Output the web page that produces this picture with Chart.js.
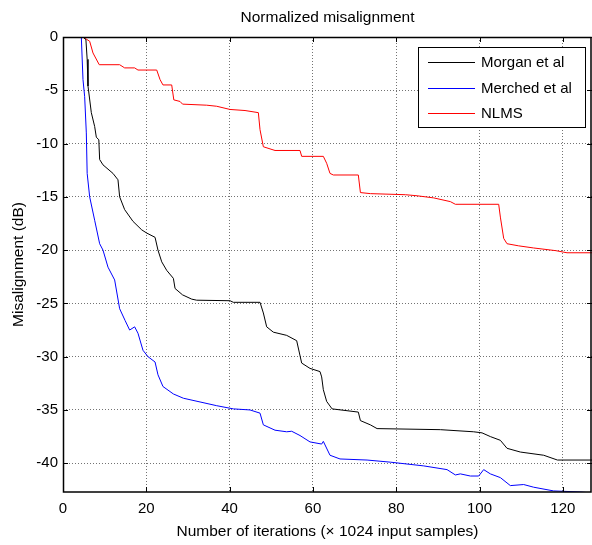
<!DOCTYPE html>
<html>
<head>
<meta charset="utf-8">
<script src="https://cdn.jsdelivr.net/npm/chart.js@4/dist/chart.umd.min.js"></script>
<style>
  html, body { margin: 0; padding: 0; background: #fff; }
  #wrap { width: 592px; height: 545px; }
</style>
</head>
<body>
<div id="wrap"><canvas id="c" width="592" height="545"></canvas></div>
<script>
// values (x: iterations ×1024, y: dB)
const morganX = [0, 4.8, 5.5, 5.8, 6.0, 6.8, 7.6, 8.0, 8.6, 8.8, 9.6, 12.0, 13.2, 13.6, 14.8, 16.8, 18.9, 20.1, 22.1, 22.8, 23.7, 24.9, 26.5, 26.9, 28.7, 30.9, 32.1, 40.1, 40.9, 47.3, 48.1, 48.9, 50.5, 53.7, 56.1, 57.3, 59.3, 61.7, 62.1, 62.5, 63.3, 64.6, 70.9, 71.4, 73.8, 75.4, 90.6, 98.6, 100.6, 102.6, 105.0, 106.6, 109.8, 115.4, 118.7, 127];
const morganY = [0, 0, -0.25, -2.1, -4.6, -7.1, -8.4, -9.4, -9.65, -11.5, -12.0, -12.8, -13.4, -15.0, -16.2, -17.3, -18.1, -18.4, -18.8, -20.0, -21.1, -21.9, -22.65, -23.6, -24.2, -24.6, -24.7, -24.75, -24.9, -24.9, -25.9, -27.2, -27.7, -28.0, -28.5, -30.6, -31.1, -31.4, -31.9, -33.1, -34.2, -34.9, -35.2, -36.0, -36.4, -36.75, -36.85, -37.05, -37.15, -37.5, -37.85, -38.6, -38.95, -39.25, -39.7, -39.7];

const merchedX = [0, 4.4, 4.8, 5.2, 5.6, 5.8, 6.4, 7.6, 8.8, 9.6, 10.8, 12.4, 13.6, 14.9, 16.0, 17.2, 18.0, 19.2, 20.4, 22.1, 22.8, 24.0, 26.5, 28.9, 32.9, 36.9, 40.9, 44.9, 47.3, 48.1, 50.9, 53.7, 54.9, 56.9, 59.3, 62.1, 62.5, 64.1, 66.5, 73.0, 78.6, 86.6, 92.2, 94.2, 95.4, 97.8, 99.8, 101.0, 102.6, 105.0, 107.4, 110.6, 113.0, 117.8, 124.3, 127];
const merchedY = [0, 0, -4.0, -5.6, -9.0, -12.8, -15.0, -17.2, -19.4, -20.0, -21.6, -22.8, -25.5, -26.6, -27.5, -27.2, -27.8, -29.4, -30.0, -30.5, -31.7, -32.8, -33.5, -33.9, -34.25, -34.6, -34.9, -35.0, -35.3, -36.4, -36.9, -37.05, -37.0, -37.4, -38.0, -38.2, -37.95, -39.25, -39.6, -39.7, -39.9, -40.25, -40.6, -41.1, -41.0, -41.2, -41.2, -40.6, -41.0, -41.35, -42.1, -42.0, -42.25, -42.6, -42.7, -42.8];

const nlmsX = [0, 4.8, 6.4, 7.2, 8.7, 13.6, 14.8, 17.2, 18.0, 22.5, 23.3, 24.0, 26.1, 26.6, 28.1, 28.7, 34.5, 36.9, 40.1, 43.7, 46.9, 47.3, 48.1, 50.9, 56.9, 57.3, 62.5, 63.3, 64.1, 64.9, 70.9, 71.4, 73.8, 82.2, 85.0, 89.0, 93.0, 94.2, 104.6, 105.0, 105.8, 106.6, 109.4, 113.0, 118.3, 121.0, 127];
const nlmsY = [0, 0, -0.4, -1.5, -2.6, -2.6, -2.9, -2.9, -3.1, -3.1, -4.0, -4.5, -4.5, -5.9, -6.05, -6.3, -6.4, -6.5, -6.8, -6.9, -7.1, -8.7, -10.3, -10.65, -10.65, -11.2, -11.2, -11.85, -12.8, -12.95, -12.95, -14.6, -14.7, -14.8, -14.9, -15.1, -15.45, -15.7, -15.7, -16.9, -18.9, -19.4, -19.6, -19.8, -20.05, -20.25, -20.25];

const seriesNames = ['Morgan et al', 'Merched et al', 'NLMS'];
const seriesColors = ['#000000', '#0000ff', '#ff0000'];
const xTicks = [0, 20, 40, 60, 80, 100, 120];
const yTicks = [-40, -35, -30, -25, -20, -15, -10, -5, 0];

const FONT = '"Liberation Sans", Arial, sans-serif';

function pts(xs, ys) { return xs.map((x, i) => ({ x, y: ys[i] })); }

// frame, inward ticks, titles, legend
const decor = {
  id: 'decor',
  afterDraw(chart) {
    const ctx = chart.ctx, a = chart.chartArea;
    const xs = chart.scales.x, ys = chart.scales.y;
    ctx.save();
    ctx.strokeStyle = '#000';
    ctx.lineWidth = 1;
    ctx.beginPath();
    xTicks.forEach(v => {
      const p = Math.round(xs.getPixelForValue(v)) + 0.5;
      ctx.moveTo(p, a.bottom); ctx.lineTo(p, a.bottom - 5);
      ctx.moveTo(p, a.top); ctx.lineTo(p, a.top + 5);
    });
    yTicks.forEach(v => {
      const p = Math.round(ys.getPixelForValue(v)) + 0.5;
      ctx.moveTo(a.left, p); ctx.lineTo(a.left + 5, p);
      ctx.moveTo(a.right, p); ctx.lineTo(a.right - 5, p);
    });
    ctx.stroke();
    ctx.lineWidth = 1.5;
    ctx.strokeRect(a.left + 0.5, a.top + 0.5, a.right - a.left - 1.5, a.bottom - a.top - 0.5);

    ctx.fillStyle = '#000';
    ctx.font = '15.5px ' + FONT;
    ctx.textAlign = 'center';
    ctx.textBaseline = 'middle';
    ctx.fillText('Normalized misalignment', (a.left + a.right) / 2, 18);
    ctx.fillText('Number of iterations (\u00d7 1024 input samples)', (a.left + a.right) / 2, 532);
    ctx.save();
    ctx.translate(19, (a.top + a.bottom) / 2);
    ctx.rotate(-Math.PI / 2);
    ctx.fillText('Misalignment (dB)', 0, 0);
    ctx.restore();

    // legend box
    const lx = 418, ly = 47, lw = 167, lh = 80;
    ctx.fillStyle = '#fff';
    ctx.fillRect(lx, ly, lw, lh);
    ctx.lineWidth = 1;
    ctx.strokeStyle = '#000';
    ctx.strokeRect(lx + 0.5, ly + 0.5, lw, lh);
    ctx.font = '15px ' + FONT;
    ctx.textAlign = 'left';
    [62.5, 88.5, 113.5].forEach((ry, i) => {
      ctx.strokeStyle = seriesColors[i];
      ctx.beginPath();
      ctx.moveTo(428, ry); ctx.lineTo(475, ry);
      ctx.stroke();
      ctx.fillStyle = '#000';
      ctx.fillText(seriesNames[i], 481, ry);
    });
    ctx.restore();
  }
};

new Chart(document.getElementById('c'), {
  type: 'line',
  data: {
    datasets: [
      { label: seriesNames[0], data: pts(morganX, morganY), borderColor: seriesColors[0] },
      { label: seriesNames[1], data: pts(merchedX, merchedY), borderColor: seriesColors[1] },
      { label: seriesNames[2], data: pts(nlmsX, nlmsY), borderColor: seriesColors[2] }
    ]
  },
  options: {
    responsive: false,
    animation: false,
    devicePixelRatio: 1,
    layout: { padding: { top: 37, right: 0, left: 0, bottom: 0 } },
    elements: {
      line: { borderWidth: 1, tension: 0, fill: false },
      point: { radius: 0, hoverRadius: 0 }
    },
    plugins: { legend: { display: false }, title: { display: false }, tooltip: { enabled: false } },
    scales: {
      x: {
        type: 'linear', min: 0, max: 127,
        afterBuildTicks: s => { s.ticks = xTicks.map(v => ({ value: v })); },
        afterFit: s => { s.height = 53; },
        grid: { color: 'rgba(0,0,0,0.55)', lineWidth: 1, drawTicks: false },
        border: { display: false, dash: [1, 2] },
        ticks: { color: '#000', font: { size: 15, family: FONT }, padding: 8, maxRotation: 0 }
      },
      y: {
        type: 'linear', min: -42.7, max: 0,
        afterBuildTicks: s => { s.ticks = yTicks.map(v => ({ value: v })); },
        afterFit: s => { s.width = 63; },
        grid: { color: 'rgba(0,0,0,0.55)', lineWidth: 1, drawTicks: false },
        border: { display: false, dash: [1, 2] },
        ticks: { color: '#000', font: { size: 15, family: FONT }, padding: 5 }
      }
    }
  },
  plugins: [decor]
});
</script>
</body>
</html>
